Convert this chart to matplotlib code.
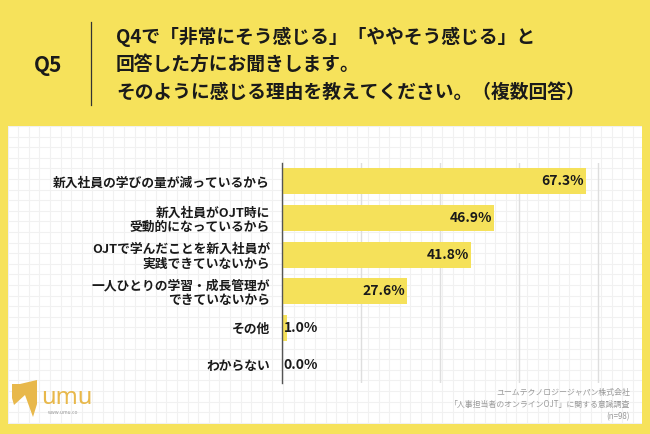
import matplotlib
matplotlib.use('Agg')
import matplotlib.pyplot as plt
from matplotlib.patches import Polygon

plt.rcParams['font.family'] = ['Noto Sans CJK JP', 'DejaVu Sans']

# data
categories = [
    '新入社員の学びの量が減っているから',
    '新入社員がOJT時に\n受動的になっているから',
    'OJTで学んだことを新入社員が\n実践できていないから',
    '一人ひとりの学習・成長管理が\nできていないから',
    'その他',
    'わからない',
]
values = [67.3, 46.9, 41.8, 27.6, 1.0, 0.0]
grid_ticks = [17.5, 35, 52.5, 70]

title_q = 'Q5'
title_lines = [
    'Q4で「非常にそう感じる」「ややそう感じる」と',
    '回答した方にお聞きします。',
    'そのように感じる理由を教えてください。（複数回答）',
]
credit_lines = [
    'ユームテクノロジージャパン株式会社',
    '「人事担当者のオンラインOJT」に関する意識調査',
    '(n=98)',
]

YELLOW = '#F6E25B'
BAR = '#F5E15A'
W, H = 650, 434

fig = plt.figure(figsize=(6.5, 4.34), dpi=100)
fig.patch.set_facecolor(YELLOW)


def fx(x):
    return x / W


def fy(y):
    return 1 - y / H


# white panel with a fine grid
panel = fig.add_axes([fx(7.5), fy(424), fx(642 - 7.5), (424 - 126) / H])
panel.set_xlim(0, 634.5)
panel.set_ylim(298, 0)
panel.set_facecolor('white')
gx = 10.6
x = 0.0
while x < 634.5:
    panel.axvline(x, color='#f1f1f1', lw=0.8, zorder=0)
    x += gx
y = 0.0
while y < 298:
    panel.axhline(y, color='#f1f1f1', lw=0.8, zorder=0)
    y += gx
panel.set_xticks([])
panel.set_yticks([])
for s in panel.spines.values():
    s.set_visible(False)

# header
fig.text(fx(48), fy(65), title_q, ha='center', va='center', fontsize=15,
         fontweight='bold', color='#1a1a1a')
fig.add_artist(plt.Line2D([fx(91), fx(91)], [fy(22), fy(105)],
                          color='#333333', lw=0.9))
for i, line in enumerate(title_lines):
    fig.text(fx(116), fy(37 + i * 27.5), line, ha='left', va='center',
             fontsize=13.5, fontweight='bold', color='#1a1a1a')

# bar chart
ax = fig.add_axes([fx(282), fy(383), fx(357), 220 / H])
ax.set_facecolor('none')
pos = list(range(len(categories)))
ax.barh(pos, values, height=0.71, color=BAR, zorder=2)
ax.set_xlim(0, 79)
ax.set_ylim(len(categories) - 0.5, -0.5)
ax.set_xticks(grid_ticks)
ax.set_xticklabels([])
ax.tick_params(length=0)
ax.xaxis.grid(True, color='#dedede', lw=1, zorder=0)
ax.set_axisbelow(True)
ax.set_yticks(pos)
ax.set_yticklabels(categories, fontsize=9.2, fontweight='bold',
                   color='#1a1a1a', linespacing=1.15)
ax.tick_params(axis='y', pad=8.6)
for lbl in ax.get_yticklabels():
    lbl.set_horizontalalignment('right')
for side in ['top', 'right', 'bottom']:
    ax.spines[side].set_visible(False)
ax.spines['left'].set_color('#555555')
ax.spines['left'].set_linewidth(1)

for p, v in zip(pos, values):
    if v >= 10:
        ax.text(v - 0.4, p, f'{v:.1f}%', ha='right', va='center',
                fontsize=10, fontweight='bold', color='#1a1a1a', zorder=3)
    else:
        ax.text(0.4, p, f'{v:.1f}%', ha='left', va='center',
                fontsize=10, fontweight='bold', color='#1a1a1a', zorder=3)

# credits
for i, line in enumerate(credit_lines):
    fig.text(fx(630), fy(392 + i * 12.2), line, ha='right', va='center',
             fontsize=5.7, color='#9a9a9a')

# logo
logo = '#E8B84B'
fig.add_artist(Polygon([(fx(12), fy(384)), (fx(20), fy(384)),
                        (fx(37), fy(380)), (fx(37), fy(404)),
                        (fx(33), fy(417)), (fx(25), fy(395)),
                        (fx(14), fy(405)), (fx(12), fy(398))],
                       closed=True, facecolor=logo, edgecolor='none',
                       transform=fig.transFigure))
fig.text(fx(41), fy(398), 'umu', ha='left', va='center', fontsize=17,
         color=logo, family='Noto Sans')
fig.text(fx(48), fy(412), 'www.umu.co', ha='left', va='center',
         fontsize=3.5, color='#999999')

fig.savefig('out.png', dpi=100, facecolor=YELLOW)
